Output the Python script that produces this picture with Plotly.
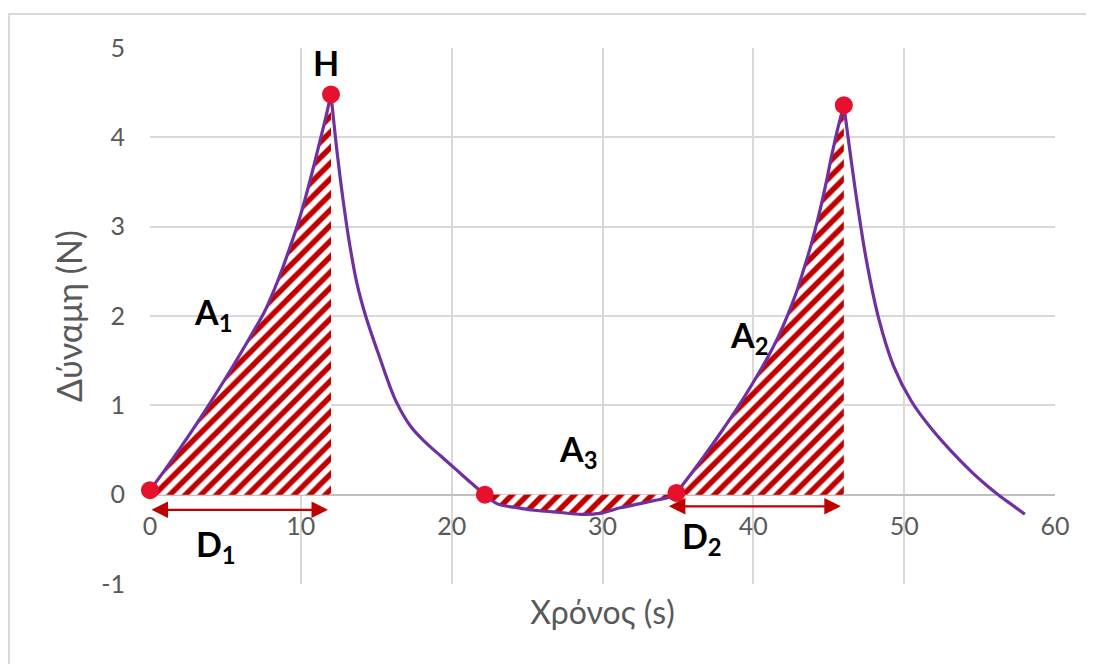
import plotly.graph_objects as go

# Force-time curve
time_s = [0, 1, 2, 3, 4, 5, 6, 7, 7.6, 8.2, 8.8, 9.3, 9.8, 10.3, 10.8, 11.3, 11.65, 12,
          12.4, 12.8, 13.2, 13.7, 14.3, 15.2, 16.3, 17.3, 18.3, 19.3, 20.3, 21.3, 22.2,
          23, 24.5, 25.8, 27.2, 28.6, 29.8, 31.1, 32.5, 33.6, 34.4, 34.9,
          35.9, 36.9, 37.9, 38.9, 39.9, 40.9, 41.6, 42.2, 42.8, 43.3, 43.8, 44.3, 44.8, 45.2, 45.6, 46,
          46.4, 46.9, 47.5, 48.3, 49.3, 50.5, 51.8, 53.1, 54.5, 55.5, 56.3, 57.2, 58]
force_n = [0.05, 0.28, 0.52, 0.77, 1.03, 1.3, 1.58, 1.87, 2.05, 2.28, 2.54, 2.78, 3.03, 3.32, 3.64, 3.98, 4.22, 4.48,
           3.84, 3.3, 2.84, 2.38, 2.0, 1.55, 1.05, 0.76, 0.58, 0.43, 0.28, 0.13, 0.0,
           -0.1, -0.15, -0.18, -0.2, -0.22, -0.21, -0.15, -0.1, -0.06, -0.03, 0.02,
           0.24, 0.47, 0.71, 0.96, 1.23, 1.52, 1.75, 1.98, 2.24, 2.5, 2.78, 3.1, 3.47, 3.8, 4.1, 4.36,
           3.85, 3.25, 2.62, 1.98, 1.44, 1.04, 0.74, 0.49, 0.25, 0.1, -0.01, -0.12, -0.22]

# Highlighted points (start, peak H, zero crossings, second peak)
key_t = [0, 12, 22.2, 34.9, 46]
key_f = [0.05, 4.48, 0.0, 0.02, 4.36]

# Curve branches split at the sharp peaks / start of rise
branch_start = [0, 12, 34.9, 46]
branch_end = [12, 34.9, 46, 58]

# Hatched areas (start, end time)
area_start = [0, 22.2, 34.9]
area_end = [12, 34.9, 46]

# Text labels
label_text = ["H", "A<sub>1</sub>", "A<sub>2</sub>", "A<sub>3</sub>", "D<sub>1</sub>", "D<sub>2</sub>"]
label_x = [11.65, 4.2, 39.7, 28.4, 4.4, 36.6]
label_y = [4.84, 2.02, 1.77, 0.49, -0.57, -0.48]

# Duration arrows
arrow_start = [0, 34.3]
arrow_end = [11.8, 45.8]
arrow_y = [-0.17, -0.13]

x_ticks = [0, 10, 20, 30, 40, 50, 60]
y_ticks = [-1, 0, 1, 2, 3, 4, 5]
y_tick_text = ["-1", "0", "1", "2", "3", "4", "5"]

RED = "#c00000"
PURPLE = "#7030a0"
GRAY = "#595959"
GRID = "#d9d9d9"
FONT = "Lato, 'Open Sans', sans-serif"

ML, MR, MT, MB = 142, 47, 40, 88
PW = 1094 - ML - MR
PH = 664 - MT - MB


def pick(a, b):
    xs = [t for t in time_s if a <= t <= b]
    ys = [f for t, f in zip(time_s, force_n) if a <= t <= b]
    return xs, ys


fig = go.Figure()

for a, b in zip(area_start, area_end):
    xs, ys = pick(a, b)
    fig.add_trace(go.Scatter(
        x=xs, y=ys, mode="lines",
        line=dict(width=0, color="rgba(0,0,0,0)", shape="spline", smoothing=1.0),
        fill="tozeroy", fillcolor="white",
        fillpattern=dict(shape="/", fgcolor=RED, bgcolor="white", size=11, solidity=0.5, fgopacity=1),
        hoverinfo="skip", showlegend=False))

for a, b in zip(branch_start, branch_end):
    xs, ys = pick(a, b)
    fig.add_trace(go.Scatter(x=xs, y=ys, mode="lines",
                             line=dict(color=PURPLE, width=3.2, shape="spline", smoothing=1.0),
                             showlegend=False))

fig.add_trace(go.Scatter(x=key_t, y=key_f, mode="markers", cliponaxis=False,
                         marker=dict(color="#e8112d", size=18), showlegend=False))

for s, e, y in zip(arrow_start, arrow_end, arrow_y):
    fig.add_annotation(x=e, y=y, ax=s, ay=y, xref="x", yref="y", axref="x", ayref="y",
                       text="", showarrow=True, arrowside="end+start", arrowhead=2,
                       arrowsize=1.5, arrowwidth=2.2, arrowcolor=RED)

for t, x, y in zip(label_text, label_x, label_y):
    fig.add_annotation(x=x, y=y, xref="x", yref="y", text="<b>" + t + "</b>",
                       showarrow=False, font=dict(family=FONT, size=34, color="black"))

# outer chart border
fig.add_shape(type="rect", xref="paper", yref="paper",
              x0=(1 - ML) / PW, x1=1.3, y0=-0.3, y1=(664 - MB - 6) / PH,
              line=dict(color=GRID, width=2), fillcolor="rgba(0,0,0,0)", layer="below")

fig.update_layout(
    width=1094, height=664,
    margin=dict(l=ML, r=MR, t=MT, b=MB),
    paper_bgcolor="white", plot_bgcolor="white",
    font=dict(family=FONT, color=GRAY, size=25),
    xaxis=dict(range=[0, 60], tickvals=x_ticks, showgrid=True, gridcolor=GRID, gridwidth=1.5,
               zeroline=False, showline=False, ticks="", anchor="free", position=1 / 6,
               ticklabelstandoff=14, tickfont=dict(size=25, color=GRAY),
               title=dict(text="Χρόνος (s)", font=dict(size=32, color=GRAY), standoff=62)),
    yaxis=dict(range=[-1, 5], tickvals=y_ticks, ticktext=y_tick_text, showgrid=True,
               gridcolor=GRID, gridwidth=1.5,
               zeroline=True, zerolinecolor="#bfbfbf", zerolinewidth=2, showline=False, ticks="",
               ticklabelstandoff=24, tickfont=dict(size=25, color=GRAY),
               title=dict(text="Δύναμη (N)", font=dict(size=34, color=GRAY), standoff=8)),
)

fig.write_html("out.html")
